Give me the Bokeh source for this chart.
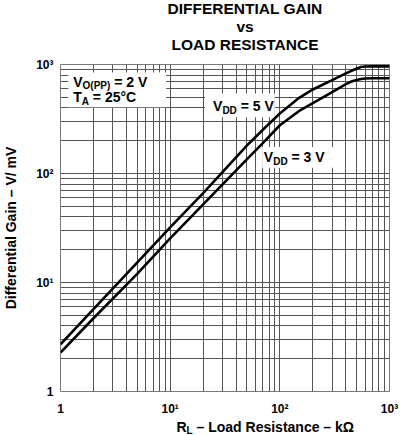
import math
from bokeh.plotting import figure
from bokeh.layouts import column
from bokeh.models import Range1d, FixedTicker, Label, BoxAnnotation
from bokeh.embed import file_html
from bokeh.resources import INLINE

# ---- data ----
rl_kohm = [1, 2, 5, 10, 20, 50, 70, 100, 150, 200, 300, 400, 450, 500, 550, 600, 700, 1000]
gain_5v = [2.7, 5.7, 15.2, 32, 66, 180, 252, 355, 495, 590, 720, 830, 875, 915, 948, 958, 962, 962]
gain_3v = [2.28, 4.7, 12.0, 25.4, 52, 135, 190, 277, 375, 443, 558, 660, 698, 722, 737, 745, 748, 748]

major_ticks = [1, 10, 100, 1000]
minor_ticks = [2, 3, 4, 5, 6, 7, 8, 9, 20, 30, 40, 50, 60, 70, 80, 90,
               200, 300, 400, 500, 600, 700, 800, 900]
tick_labels = {1: "1", 10: "10\u00b9", 100: "10\u00b2", 1000: "10\u00b3"}
title_lines = ["DIFFERENTIAL GAIN", "vs", "LOAD RESISTANCE"]
y_title = "Differential Gain \u2013 V/ mV"

FONT = "Liberation Sans"
BASE_FIX = 0.35   # labels render slightly below the requested baseline; lift them
# Arial/Liberation Sans Bold advance widths (per 1000 em)
W = {' ': 278, '(': 333, ')': 333, '=': 584, '/': 278, '\u2013': 556, '\u00b0': 400,
     '\u03a9': 768, 'A': 722, 'C': 722, 'D': 722, 'L': 611, 'O': 778, 'P': 667,
     'R': 722, 'T': 611, 'V': 667, 'a': 556, 'c': 556, 'd': 611, 'e': 556, 'i': 278,
     'k': 556, 'n': 611, 'o': 611, 's': 556, 't': 333}
for dgt in "0123456789":
    W[dgt] = 556


def text_width(s, size):
    return sum(W.get(c, 556) for c in s) * size / 1000.0


def rich_label(fig, x, y, parts, size=14, sub_size=10, sub_drop=3):
    off = 0.0
    for txt, sub in parts:
        fs = sub_size if sub else size
        lead = len(txt) - len(txt.lstrip(' '))
        off += text_width(' ' * lead, fs)
        body = txt.strip(' ')
        yo = BASE_FIX * fs - (sub_drop if sub else 0)
        fig.add_layout(Label(x=x, y=y, x_offset=off, y_offset=yo,
                             text=body, text_font=FONT, text_font_style="bold",
                             text_font_size=f"{fs}px", text_baseline="alphabetic",
                             text_align="left", text_color="black"))
        off += text_width(txt[lead:], fs)


def text_strip(height):
    # plain canvas whose data units are its own pixels (y grows downward)
    f = figure(width=403, height=height, x_range=Range1d(0, 403), y_range=Range1d(height, 0),
               x_axis_location=None, y_axis_location=None, output_backend="svg",
               toolbar_location=None, min_border=0, title=None)
    if f.title is not None:
        f.title.visible = False
    f.outline_line_color = None
    f.background_fill_color = "white"
    f.border_fill_color = "white"
    f.grid.visible = False
    return f


# ---- title strip (page rows 0..56) ----
top = text_strip(56)
for line, base in zip(title_lines, [13.5, 31, 49]):
    top.add_layout(Label(x=226, y=base, y_offset=BASE_FIX * 15.5, text=line, text_font=FONT,
                         text_font_style="bold", text_font_size="15.5px", text_align="center",
                         text_baseline="alphabetic", text_color="black"))

# ---- main chart (page rows 56..418, frame 64..393) ----
p = figure(width=403, height=362, x_axis_type="log", y_axis_type="log",
           x_range=Range1d(1, 1000), y_range=Range1d(1, 1000),
           output_backend="svg", toolbar_location=None, title=None,
           min_border_left=60, min_border_right=14, min_border_top=8, min_border_bottom=25)
if p.title is not None:
    p.title.visible = False
p.background_fill_color = "white"
p.border_fill_color = "white"
p.outline_line_color = "#7a7a7a"
p.outline_line_width = 1

ticker = FixedTicker(ticks=major_ticks, minor_ticks=minor_ticks)
for ax in (p.xaxis[0], p.yaxis[0]):
    ax.ticker = ticker
    ax.major_label_overrides = tick_labels
    ax.axis_line_color = None
    ax.major_tick_line_color = None
    ax.minor_tick_line_color = None
    ax.major_tick_out = 0
    ax.minor_tick_out = 0
    ax.major_label_text_font = FONT
    ax.major_label_text_font_style = "bold"
    ax.major_label_text_font_size = "12px"
    ax.major_label_text_color = "black"
p.xaxis[0].major_label_standoff = 10
p.yaxis[0].major_label_standoff = 7
p.yaxis[0].axis_label = y_title
p.yaxis[0].axis_label_text_font = FONT
p.yaxis[0].axis_label_text_font_style = "bold"
p.yaxis[0].axis_label_text_font_size = "14px"
p.yaxis[0].axis_label_text_color = "black"
p.yaxis[0].axis_label_standoff = 14

for g in (p.xgrid[0], p.ygrid[0]):
    g.ticker = ticker
    g.grid_line_color = "#555555"
    g.grid_line_width = 1
    g.minor_grid_line_color = "#555555"
    g.minor_grid_line_width = 1

# white label backgrounds (under the curves)
for l, r, b, t in [(1.18, 9.2, 405, 844), (20.8, 90, 328, 543), (69, 316, 113, 175)]:
    p.add_layout(BoxAnnotation(left=l, right=r, bottom=b, top=t, fill_color="white",
                               fill_alpha=1, line_color=None, level="underlay"))

p.line(rl_kohm, gain_5v, line_width=2.6, line_color="black")
p.line(rl_kohm, gain_3v, line_width=2.6, line_color="black")

rich_label(p, 1.305, 629, [("V", False), ("O(PP)", True), (" = 2 V", False)])
rich_label(p, 1.305, 453, [("T", False), ("A", True), (" = 25\u00b0C", False)])
rich_label(p, 24.6, 375, [("V", False), ("DD", True), (" = 5 V", False)])
rich_label(p, 71.5, 128.6, [("V", False), ("DD", True), (" = 3 V", False)])

# ---- x axis title strip (page rows 418..435) ----
bot = text_strip(17)
rich_label(bot, 142, 13.5, [("R", False), ("L", True), (" \u2013 Load Resistance \u2013 k\u03a9", False)],
           size=14, sub_size=10, sub_drop=2)

layout = column(top, p, bot, spacing=0)
open("out.html", "w").write(file_html(layout, INLINE))
